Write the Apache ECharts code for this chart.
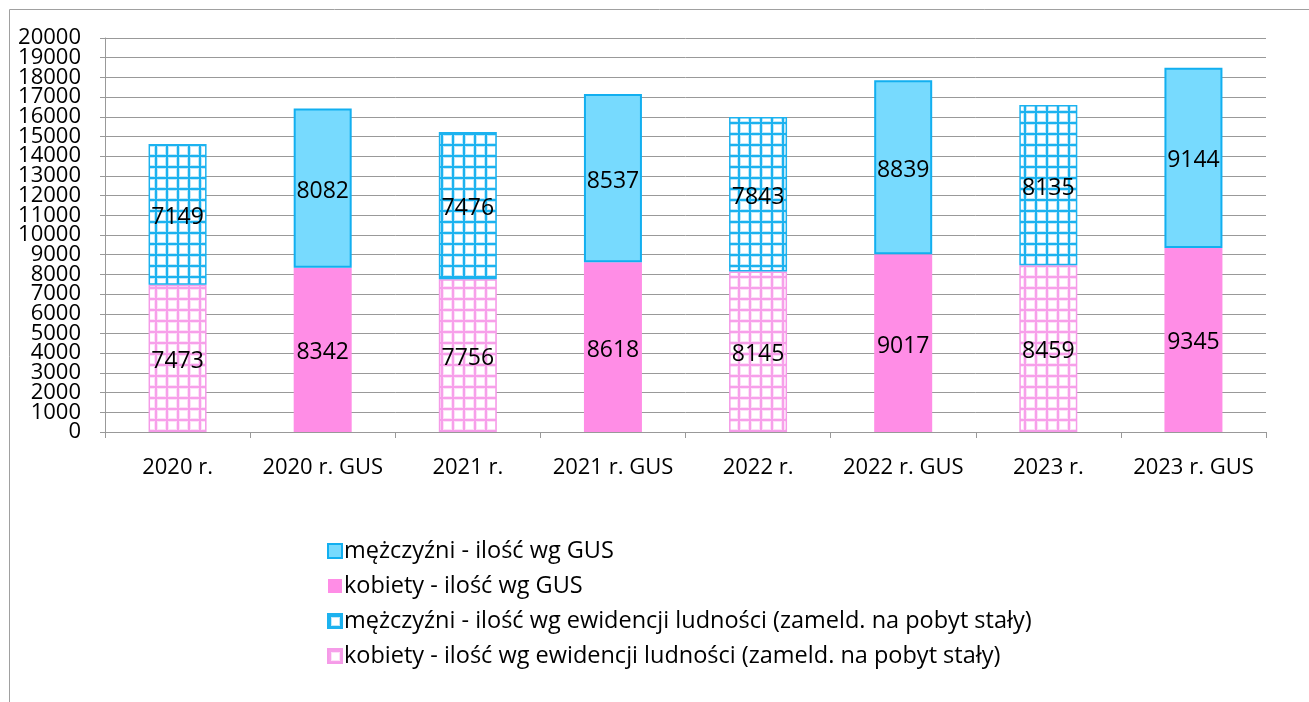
<!DOCTYPE html>
<html><head><meta charset="utf-8">
<script src="https://cdn.jsdelivr.net/npm/echarts@6/dist/echarts.min.js"></script>
<style>html,body{margin:0;padding:0;background:#fff}#c{width:1309px;height:702px}</style>
</head><body><div id="c"></div>
<script>
const categories = ['2020 r.', '2020 r. GUS', '2021 r.', '2021 r. GUS', '2022 r.', '2022 r. GUS', '2023 r.', '2023 r. GUS'];
const kobietyEwid = [7473, '-', 7756, '-', 8145, '-', 8459, '-'];
const mezczyzniEwid = [7149, '-', 7476, '-', 7843, '-', 8135, '-'];
const kobietyGUS = ['-', 8342, '-', 8618, '-', 9017, '-', 9345];
const mezczyzniGUS = ['-', 8082, '-', 8537, '-', 8839, '-', 9144];
const seriesNames = [
  'mężczyźni - ilość wg GUS',
  'kobiety - ilość wg GUS',
  'mężczyźni - ilość wg ewidencji ludności (zameld. na pobyt stały)',
  'kobiety - ilość wg ewidencji ludności (zameld. na pobyt stały)'
];
const yMin = 0, yMax = 20000, yStep = 1000;

function makePattern(line, halo) {
  const s = 11;
  const c = document.createElement('canvas');
  c.width = s; c.height = s;
  const g = c.getContext('2d');
  g.fillStyle = '#ffffff'; g.fillRect(0, 0, s, s);
  g.fillStyle = halo;
  g.fillRect(0, 0, 4, s); g.fillRect(0, 0, s, 4);
  g.fillStyle = line;
  g.fillRect(1, 0, 2, s); g.fillRect(0, 1, s, 2);
  return { image: c, repeat: 'repeat' };
}
const bluePat = makePattern('#1cb2ef', '#bfe9fb');
const pinkPat = makePattern('#f7a0ea', '#fde0f8');

const font = '"Open Sans", Lato, sans-serif';
const labelCfg = { show: true, position: 'inside', color: '#000', fontSize: 23, fontFamily: font, offset: [0, 3] };
const yLabelBase = { color: '#000', fontSize: 22, margin: 24, fontFamily: font, lineHeight: 18,
  showMinLabel: true, showMaxLabel: true, hideOverlap: false };

const chart = echarts.init(document.getElementById('c'));
chart.setOption({
  animation: false,
  textStyle: { fontFamily: font },
  graphic: [{ type: 'rect', shape: { x: 9.5, y: 9.5, width: 1320, height: 720 }, style: { fill: 'none', stroke: '#a0a0a0', lineWidth: 1 }, silent: true }],
  grid: { left: 105, top: 38, right: 43, bottom: 270, containLabel: false },
  xAxis: {
    type: 'category', data: categories,
    axisLine: { lineStyle: { color: '#999', width: 1 } },
    axisTick: { show: true, length: 6, lineStyle: { color: '#999' } },
    axisLabel: { color: '#000', fontSize: 22, margin: 25, fontFamily: font, interval: 0 }
  },
  yAxis: [{
    type: 'value', min: yMin, max: yMax, interval: yStep,
    axisLine: { show: true, lineStyle: { color: '#999' } },
    axisTick: { show: true, length: 5, lineStyle: { color: '#999' } },
    splitLine: { lineStyle: { color: '#999', width: 1 } },
    axisLabel: Object.assign({}, yLabelBase, { formatter: v => ((v / yStep) % 2 === 0 ? String(v) : '') })
  }, {
    type: 'value', min: yMin, max: yMax, interval: yStep, position: 'left', offset: 0,
    axisLine: { show: false }, axisTick: { show: false }, splitLine: { show: false },
    axisLabel: Object.assign({}, yLabelBase, { formatter: v => ((v / yStep) % 2 === 1 ? String(v) : '') })
  }],
  legend: {
    orient: 'vertical', left: 322, top: 534, itemWidth: 14, itemHeight: 14, itemGap: 11, icon: 'rect',
    data: seriesNames,
    textStyle: { color: '#000', fontSize: 23.5, fontFamily: font, lineHeight: 22, padding: [0, 0, 0, -3] }
  },
  series: [
    { name: seriesNames[3], type: 'bar', stack: 'e', data: kobietyEwid, barWidth: 58, barGap: '-100%',
      itemStyle: { color: pinkPat, borderColor: '#f59be8', borderWidth: 1.5 }, label: labelCfg },
    { name: seriesNames[2], type: 'bar', stack: 'e', data: mezczyzniEwid, barWidth: 58, barGap: '-100%',
      itemStyle: { color: bluePat, borderColor: '#1cb2ef', borderWidth: 1.5 }, label: labelCfg },
    { name: seriesNames[1], type: 'bar', stack: 'g', data: kobietyGUS, barWidth: 58, barGap: '-100%',
      itemStyle: { color: '#ff8de6' }, label: labelCfg },
    { name: seriesNames[0], type: 'bar', stack: 'g', data: mezczyzniGUS, barWidth: 58, barGap: '-100%',
      itemStyle: { color: '#77dafe', borderColor: '#12aff0', borderWidth: 2 }, label: labelCfg }
  ]
});
</script></body></html>
